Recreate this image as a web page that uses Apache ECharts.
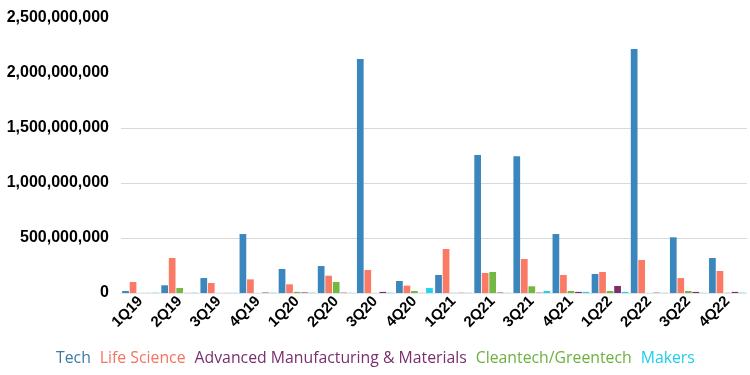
<!DOCTYPE html>
<html>
<head>
<meta charset="utf-8">
<script src="https://cdn.jsdelivr.net/npm/echarts@6/dist/echarts.min.js"></script>
<style>
html,body{margin:0;padding:0;background:#fff;}
#chart{width:750px;height:375px;}
</style>
</head>
<body>
<div id="chart"></div>
<script>
const categories = ['1Q19','2Q19','3Q19','4Q19','1Q20','2Q20','3Q20','4Q20','1Q21','2Q21','3Q21','4Q21','1Q22','2Q22','3Q22','4Q22'];
// values in millions
const tech = [18, 70, 136, 536, 218, 245, 2127, 109, 164, 1255, 1243, 536, 173, 2218, 506, 318];
const lifeScience = [100, 318, 91, 124, 79, 157, 209, 67, 400, 182, 309, 164, 191, 300, 136, 200];
const cleantech = [1, 45, 1, 1, 10, 100, 1, 18, 2, 191, 61, 18, 18, 1, 18, 2];
const advancedMfg = [1, 1, 1, 4, 5, 3, 10, 1, 2, 4, 3, 10, 64, 3, 10, 10];
const makers = [3, 3, 2, 3, 3, 2, 3, 45, 2, 2, 18, 10, 10, 2, 2, 3];
const yTicks = [0, 500000000, 1000000000, 1500000000, 2000000000, 2500000000];
const gridLineValues = [500000000, 1000000000, 1500000000];

const toUnits = a => a.map(v => v * 1e6);
const colors = {
  'Tech': '#3a86bd',
  'Life Science': '#fa7a66',
  'Advanced Manufacturing & Materials': '#7a2d6f',
  'Cleantech/Greentech': '#72b843',
  'Makers': '#1fd3ee'
};
const legendColors = {
  'Tech': '#3a7aa6',
  'Life Science': '#f4735f',
  'Advanced Manufacturing & Materials': '#7a2d6f',
  'Cleantech/Greentech': '#6cb13e',
  'Makers': '#1fcfe8'
};
const seriesDefs = [
  ['Tech', tech],
  ['Life Science', lifeScience],
  ['Cleantech/Greentech', cleantech],
  ['Advanced Manufacturing & Materials', advancedMfg],
  ['Makers', makers]
];
const legendOrder = ['Tech','Life Science','Advanced Manufacturing & Materials','Cleantech/Greentech','Makers'];

const series = seriesDefs.map(([name, vals]) => ({
  name: name,
  type: 'bar',
  data: toUnits(vals),
  barGap: '12%',
  barCategoryGap: '6%',
  z: 3,
  itemStyle: {color: colors[name]}
}));
series[0].markLine = {
  silent: true,
  symbol: 'none',
  label: {show: false},
  z: 1,
  lineStyle: {color: '#d9d9d9', type: 'solid', width: 1},
  data: gridLineValues.map(v => ({yAxis: v}))
};

const chart = echarts.init(document.getElementById('chart'), null, {renderer:'canvas'});
chart.setOption({
  animation: false,
  backgroundColor: '#fff',
  grid: {left: 121, right: 3, top: 18, bottom: 82, containLabel: false, outerBoundsMode: 'none'},
  legend: {
    bottom: 4,
    left: 46,
    itemGap: 4,
    itemWidth: 0,
    itemHeight: 0,
    icon: 'none',
    selectedMode: false,
    textStyle: {fontFamily: 'Open Sans', fontSize: 15.8},
    data: legendOrder.map(n => ({name: n, textStyle: {color: legendColors[n]}}))
  },
  xAxis: {
    type: 'category',
    data: categories,
    axisLine: {show: true, lineStyle: {color: '#e3e3e3'}},
    axisTick: {show: false},
    axisLabel: {
      rotate: 45, interval: 0, color: '#000', fontWeight: 'bold',
      fontFamily: 'Liberation Sans', fontSize: 15, margin: 6
    }
  },
  yAxis: {
    type: 'value',
    min: yTicks[0],
    max: yTicks[yTicks.length - 1],
    interval: yTicks[1] - yTicks[0],
    axisLine: {show: false},
    axisTick: {show: false},
    splitLine: {show: false},
    axisLabel: {
      color: '#000', fontWeight: 'bold', fontFamily: 'Liberation Sans', fontSize: 16, margin: 12,
      formatter: v => Number(v).toLocaleString('en-US')
    }
  },
  series: series
});
</script>
</body>
</html>
